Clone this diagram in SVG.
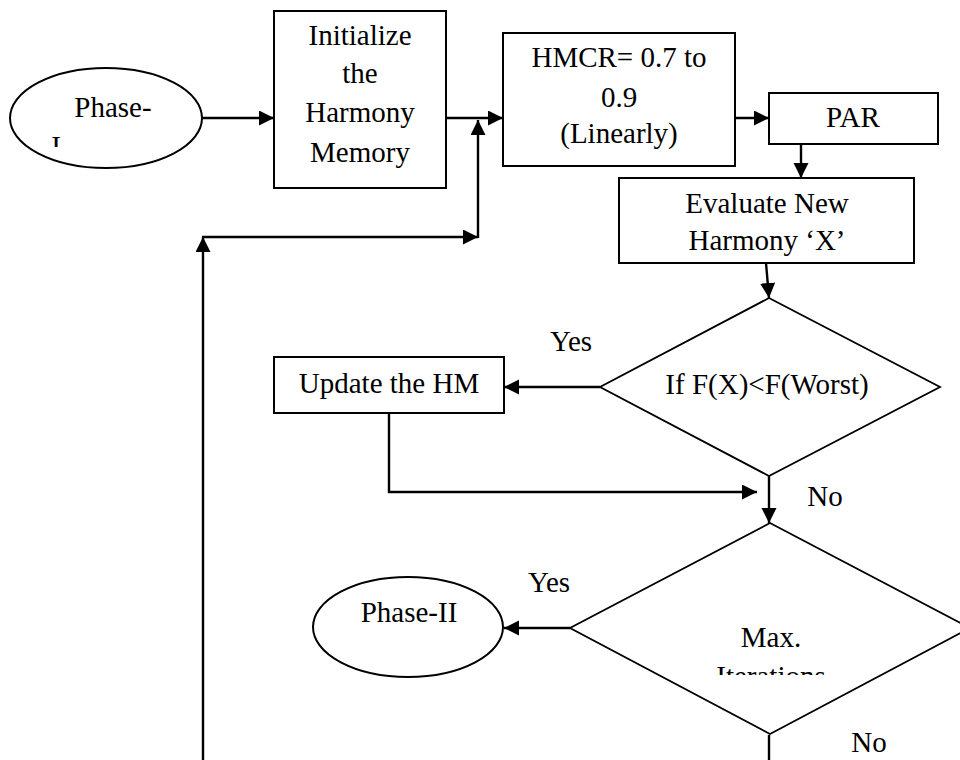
<svg xmlns="http://www.w3.org/2000/svg" width="960" height="760" viewBox="0 0 960 760">
<style>
text{font-family:"Liberation Serif","Times New Roman","DejaVu Serif",serif;font-size:29px;fill:#000;text-anchor:middle}
.box{fill:#fff;stroke:#000;stroke-width:2}
.dia{fill:#fff;stroke:#000;stroke-width:1.8}
.con{fill:none;stroke:#000;stroke-width:2.4}
</style>
<defs>
<marker id="ah" markerUnits="userSpaceOnUse" markerWidth="16" markerHeight="16" refX="15" refY="7.5" orient="auto">
<path d="M0,0 L15,7.5 L0,15 z" fill="#000"/>
</marker>
<clipPath id="clipP1"><rect x="0" y="0" width="300" height="147"/></clipPath>
<clipPath id="clipMax"><rect x="560" y="520" width="420" height="155"/></clipPath>
</defs>
<rect width="960" height="760" fill="#fff"/>
<g id="connectors">
<line class="con" x1="202" y1="118" x2="274" y2="118" marker-end="url(#ah)"/>
<line class="con" x1="446" y1="118" x2="503" y2="118" marker-end="url(#ah)"/>
<line class="con" x1="203" y1="760" x2="203" y2="237" marker-end="url(#ah)"/>
<line class="con" x1="202" y1="237" x2="478" y2="237" marker-end="url(#ah)"/>
<line class="con" x1="478" y1="238" x2="478" y2="120" marker-end="url(#ah)"/>
<line class="con" x1="735" y1="118" x2="769" y2="118" marker-end="url(#ah)"/>
<line class="con" x1="801" y1="144" x2="801" y2="178" marker-end="url(#ah)"/>
<line class="con" x1="766" y1="263" x2="769" y2="298" marker-end="url(#ah)"/>
<line class="con" x1="600" y1="387" x2="504" y2="387" marker-end="url(#ah)"/>
<polyline class="con" points="389,413 389,492 757,492" marker-end="url(#ah)"/>
<line class="con" x1="769" y1="476" x2="769" y2="523" marker-end="url(#ah)"/>
<line class="con" x1="570" y1="628" x2="504" y2="628" marker-end="url(#ah)"/>
<line class="con" x1="769" y1="735" x2="769" y2="760"/>
</g>
<g id="phase1">
<ellipse class="box" cx="106" cy="118" rx="96" ry="50"/>
<text x="113" y="117">Phase-</text>
<text x="56" y="156" clip-path="url(#clipP1)">I</text>
</g>
<g id="init">
<rect class="box" x="274" y="11" width="172" height="177"/>
<text x="360" y="45">Initialize</text>
<text x="360" y="83">the</text>
<text x="360" y="122">Harmony</text>
<text x="360" y="162">Memory</text>
</g>
<g id="hmcr">
<rect class="box" x="503" y="33" width="232" height="133"/>
<text x="619" y="67">HMCR= 0.7 to</text>
<text x="619" y="107">0.9</text>
<text x="619" y="143">(Linearly)</text>
</g>
<g id="par">
<rect class="box" x="769" y="93" width="169" height="51"/>
<text x="853" y="127">PAR</text>
</g>
<g id="evaluate">
<rect class="box" x="619" y="178" width="295" height="85"/>
<text x="767" y="213">Evaluate New</text>
<text x="767" y="250">Harmony ‘X’</text>
</g>
<g id="cond1">
<polygon class="dia" points="769,298 940,387 769,476 600,387"/>
<text x="767" y="394">If F(X)&lt;F(Worst)</text>
</g>
<g id="update">
<rect class="box" x="274" y="357" width="230" height="56"/>
<text x="389" y="393">Update the HM</text>
</g>
<g id="cond2">
<polygon class="dia" points="770,523 970,628 770,734 570,628"/>
<text x="771" y="647">Max.</text>
<text x="771" y="686" clip-path="url(#clipMax)">Iterations</text>
</g>
<g id="phase2">
<ellipse class="box" cx="408" cy="627" rx="95" ry="50"/>
<text x="409" y="622">Phase-II</text>
</g>
<g id="labels">
<text x="571" y="351">Yes</text>
<text x="549" y="592">Yes</text>
<text x="825" y="506">No</text>
<text x="869" y="752">No</text>
</g>
</svg>
